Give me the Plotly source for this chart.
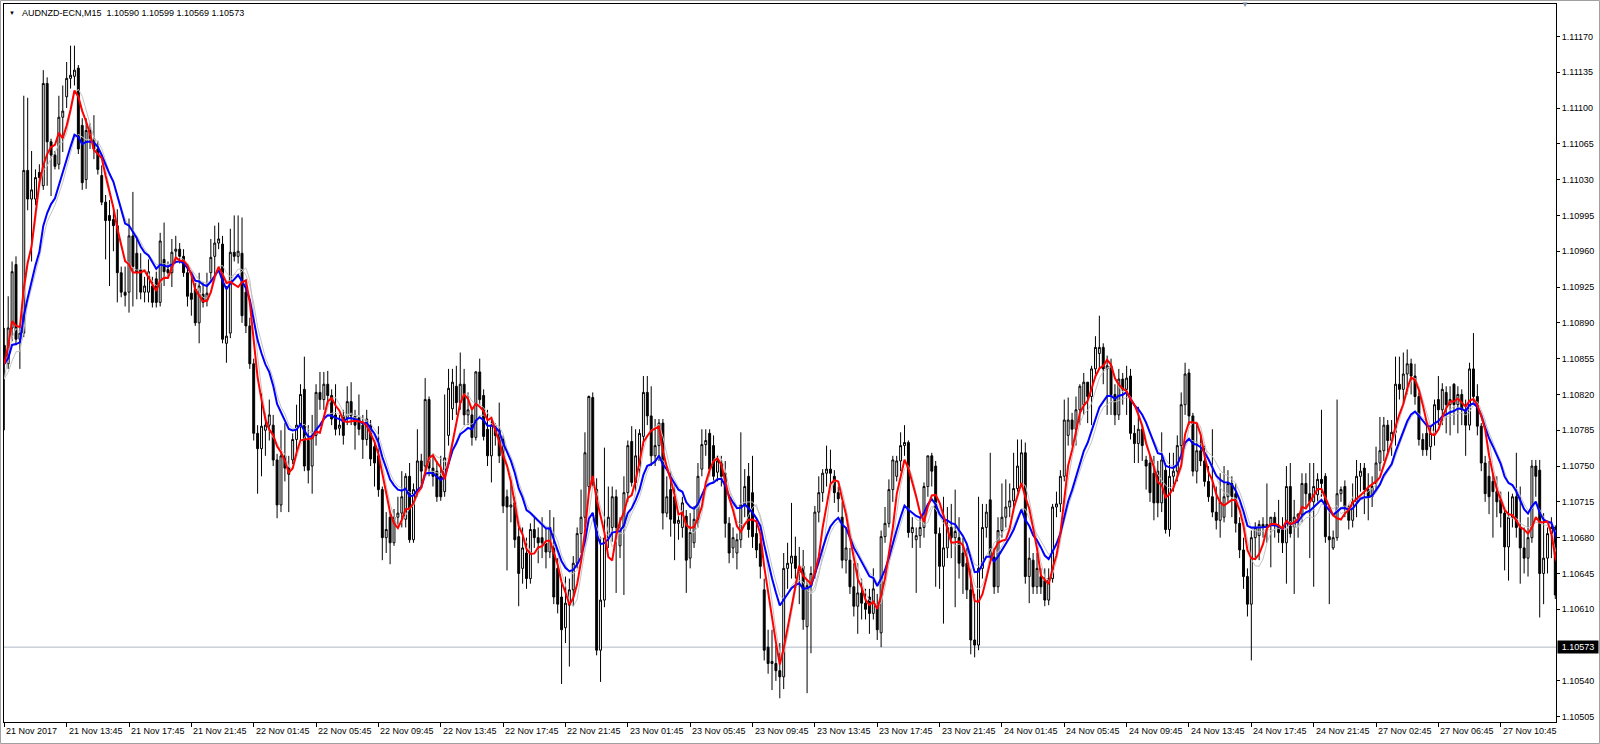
import pandas as pd
import plotly.graph_objects as go

# Prices are stored as points above 1.10000 (price = 1.1 + pts / 100000)
open_pts = [
868,850,885,947,874,880,1039,1011,1011,1037, 1024,1124,1067,1054,1045,1091,1111,1129,1131,1139,
1083,1030,1078,1070,1060,1034,1008,995,991,985, 939,920,920,975,958,942,920,920,926,933,
910,952,942,939,960,962,955,939,919,923, 890,918,912,939,955,968,967,870,880,959,
955,958,920,887,850,782,767,785,790,790, 756,712,760,748,756,776,790,825,775,750,
780,822,815,830,819,800,787,799,797,813, 799,797,790,776,790,769,760,727,680,700,
675,700,704,698,740,678,727,755,750,815, 748,745,740,725,780,806,828,812,830,800,
800,778,842,819,786,760,790,785,776,720, 710,714,681,650,665,640,688,680,680,675,
666,670,650,622,592,614,629,655,684,700, 730,817,727,570,619,680,690,720,672,690,
724,774,734,747,779,822,799,760,770,792, 704,727,720,694,690,701,660,675,698,747,
771,782,770,744,753,743,694,670,665,678, 712,740,724,684,674,629,573,557,557,550,
544,650,655,662,650,652,593,633,645,705, 724,743,747,740,724,700,658,658,632,613,
626,616,622,606,613,587,681,694,727,740, 755,770,773,685,678,682,690,730,760,750,
684,652,670,690,680,680,665,655,629,580, 575,650,690,717,661,632,687,700,710,716,
728,733,763,642,658,632,642,638,619,640, 710,713,740,780,795,786,805,810,832,818,
845,860,866,845,848,820,800,835,825,838, 782,772,786,756,753,743,745,714,746,688,
740,745,770,810,841,799,745,765,755,735, 720,705,697,700,720,733,723,694,668,642,
615,680,682,693,690,693,700,692,690,675, 730,690,700,703,733,723,715,722,737,740,
681,670,680,723,730,710,697,715,740,748, 727,720,733,753,765,790,775,783,830,825,
840,850,838,818,776,782,769,782,815,805, 822,810,830,810,820,805,790,845,818,789,
753,740,735,725,717,704,671,700,720,690, 670,660,680,750,746,645,660,684,690,624,
590]
high_pts = [
885,916,950,955,885,1112,1110,1058,1040,1045, 1137,1130,1070,1058,1112,1122,1145,1161,1161,1142,
1090,1090,1085,1093,1068,1044,1015,1010,1005,1001, 945,945,992,1018,975,958,935,952,935,940,
978,988,950,972,975,968,962,945,939,929, 939,930,939,972,985,988,975,926,982,995,
995,993,930,895,855,790,821,802,815,800, 762,785,792,760,782,810,830,857,790,800,
830,842,842,843,825,830,800,805,828,832, 805,820,800,805,795,775,789,730,705,705,
708,720,745,743,753,733,786,762,836,818, 760,755,760,820,845,845,848,861,845,822,
805,843,855,825,805,795,792,812,780,727, 737,720,690,690,680,694,700,690,700,690,
707,700,660,635,642,640,662,690,727,783, 819,822,738,681,768,730,730,727,700,740,
775,789,786,786,838,838,828,796,796,796, 740,745,734,701,720,707,704,711,753,786,
786,786,780,760,760,755,700,690,684,783, 747,753,760,700,680,640,590,590,575,577,
665,675,714,681,671,668,639,652,711,740, 747,770,766,746,730,715,690,670,655,655,
640,630,630,650,625,687,710,737,760,760, 783,790,775,700,690,700,734,760,763,755,
690,720,710,713,727,700,680,670,650,625, 720,713,713,763,670,700,733,737,733,763,
776,776,773,680,665,665,650,650,650,713, 725,746,815,817,802,818,830,841,832,848,
877,897,870,858,855,830,845,841,848,845, 790,808,790,760,760,760,755,783,753,763,
763,780,822,851,845,802,792,780,770,750, 786,730,743,750,746,740,733,700,680,650,
687,695,697,700,733,700,705,717,700,750, 753,717,704,743,743,753,753,743,805,743,
710,687,815,730,736,713,733,756,753,753, 743,740,769,798,798,795,795,857,857,861,
864,855,850,822,782,790,789,815,838,831, 828,828,831,828,825,815,851,880,830,792,
760,755,743,740,725,710,725,723,763,730, 690,700,756,756,756,704,690,700,692,630,
599]
low_pts = [
785,845,872,868,845,876,1000,950,1005,1025, 1020,1024,1014,1040,1040,1057,1100,1119,1122,1055,
1020,1021,1060,1050,1035,1005,952,926,960,910, 915,906,900,906,913,913,910,910,905,905,
906,926,935,925,950,948,935,906,897,887, 870,905,906,930,933,962,870,851,875,950,
948,890,880,845,775,723,740,760,775,750, 699,705,735,705,752,760,775,745,733,723,
770,805,805,810,790,780,780,771,790,790, 766,780,757,770,750,730,720,658,665,654,
672,690,690,690,675,675,720,730,745,740, 730,715,716,720,770,795,800,805,790,790,
770,775,810,775,750,734,770,753,704,648, 695,670,613,635,630,635,670,655,660,650,
660,615,606,537,577,554,613,650,665,690, 725,730,565,539,612,670,676,626,660,624,
715,730,725,740,770,790,750,750,755,688, 700,681,658,678,680,626,650,670,690,740,
760,740,735,735,730,680,655,660,649,670, 700,680,670,660,640,560,547,531,540,523,
532,630,640,640,615,590,528,567,640,695, 715,730,730,714,705,650,645,625,603,586,
600,600,586,600,580,573,675,690,715,735, 745,760,680,670,626,670,680,720,730,632,
630,596,660,660,612,640,625,620,566,563, 570,640,680,655,625,626,680,690,700,705,
720,730,635,616,625,625,625,613,614,636, 700,705,735,770,770,770,790,800,792,790,
840,845,830,800,800,790,795,810,800,776, 753,753,755,727,715,697,700,705,684,681,
725,735,760,800,790,740,733,750,730,715, 700,688,680,695,715,700,685,660,630,603,
560,660,658,680,675,651,680,675,665,635, 680,625,680,695,710,660,632,715,720,675,
615,668,677,715,700,688,690,700,725,703, 697,710,725,745,755,760,760,770,815,810,
820,820,810,770,760,760,756,770,790,790, 782,780,790,782,790,760,785,812,780,745,
715,703,680,700,690,648,638,690,680,635, 645,642,675,720,602,615,645,660,620,585,
569]
close_pts = [
850,885,940,874,880,1039,1011,1020,1032,1032, 1124,1067,1054,1043,1091,1097,1129,1132,1137,1060,
1027,1078,1070,1060,1040,1008,990,990,985,939, 920,917,975,945,939,920,926,940,910,910,
970,940,939,959,962,955,939,916,913,890, 926,910,919,954,968,972,874,877,959,955,
960,897,887,850,782,767,789,790,800,756, 712,760,748,742,776,790,820,750,746,780,
822,815,830,819,796,786,790,780,813,799, 790,786,776,796,757,753,727,680,688,675,
700,704,720,740,678,727,755,745,815,748, 740,720,720,758,826,832,812,830,800,805,
778,842,815,779,760,790,780,760,711,710, 712,678,645,670,640,688,680,675,675,666,
690,622,615,590,616,629,655,684,700,763, 818,737,570,619,680,700,720,690,690,724,
770,734,760,782,822,799,760,770,792,704, 720,698,694,697,714,658,685,698,740,771,
775,747,740,755,740,694,665,680,678,712, 730,688,681,668,652,570,557,559,550,544,
650,655,662,650,646,600,633,645,705,724, 743,747,743,724,718,658,670,632,613,626,
616,610,606,630,590,681,694,727,756,755, 770,773,685,690,682,690,730,760,745,684,
652,670,690,680,686,655,652,629,580,575, 650,690,705,661,632,687,700,710,716,728,
750,763,642,660,632,650,632,619,640,710, 713,740,795,795,786,805,828,832,818,845,
866,866,845,848,820,800,835,825,836,782, 772,786,770,750,724,714,714,756,688,740,
745,770,810,840,799,745,765,755,735,720, 705,697,715,720,733,720,694,668,642,615,
680,690,693,690,693,700,692,685,675,730, 684,700,703,733,723,715,730,737,733,681,
678,680,723,727,710,697,715,740,745,727, 720,730,753,765,790,775,783,830,825,840,
850,838,818,776,766,766,782,810,805,825, 810,815,810,820,805,790,845,818,789,753,
723,720,725,715,704,671,700,720,690,670, 660,680,750,740,645,660,684,690,624,590,
573]

x_labels = ["21 Nov 2017", "21 Nov 13:45", "21 Nov 17:45", "21 Nov 21:45", "22 Nov 01:45",
            "22 Nov 05:45", "22 Nov 09:45", "22 Nov 13:45", "22 Nov 17:45", "22 Nov 21:45",
            "23 Nov 01:45", "23 Nov 05:45", "23 Nov 09:45", "23 Nov 13:45", "23 Nov 17:45",
            "23 Nov 21:45", "24 Nov 01:45", "24 Nov 05:45", "24 Nov 09:45", "24 Nov 13:45",
            "24 Nov 17:45", "24 Nov 21:45", "27 Nov 02:45", "27 Nov 06:45", "27 Nov 10:45"]
x_label_bars = [0, 16, 32, 48, 64, 80, 96, 112, 128, 144, 160, 176, 192, 208, 224, 240,
                256, 272, 288, 304, 320, 336, 352, 368, 384]
y_ticks = [1.10505, 1.10540, 1.10575, 1.10610, 1.10645, 1.10680, 1.10715, 1.10750, 1.10785,
           1.10820, 1.10855, 1.10890, 1.10925, 1.10960, 1.10995, 1.11030, 1.11065, 1.11100,
           1.11135, 1.11170]
y_ticks_shown = [v for v in y_ticks if abs(v - 1.10575) > 1e-7]
current_price = 1.10573
header = "AUDNZD-ECN,M15  1.10590 1.10599 1.10569 1.10573"


def to_price(pts):
    return [round(1.1 + p / 100000.0, 5) for p in pts]


o = to_price(open_pts)
h = to_price(high_pts)
l = to_price(low_pts)
c = to_price(close_pts)
idx = list(range(len(c)))

cs = pd.Series(c)
med = (pd.Series(h) + pd.Series(l)) / 2
fast = cs.rolling(5, min_periods=1).mean()
slow = cs.ewm(span=12, adjust=False).mean()
fast_g = med.rolling(5, min_periods=1).mean()
slow_g = med.ewm(span=12, adjust=False).mean()

fig = go.Figure()
fig.add_trace(go.Candlestick(
    x=idx, open=o, high=h, low=l, close=c,
    increasing=dict(line=dict(color="black", width=1), fillcolor="white"),
    decreasing=dict(line=dict(color="black", width=1), fillcolor="black"),
    whiskerwidth=0, showlegend=False))
for s in (slow_g, fast_g):
    fig.add_trace(go.Scatter(x=idx, y=s, mode="lines", line=dict(color="#c4c4c4", width=1),
                             hoverinfo="skip", showlegend=False))
fig.add_trace(go.Scatter(x=idx, y=slow, mode="lines", line=dict(color="#0000ff", width=2),
                         showlegend=False))
fig.add_trace(go.Scatter(x=idx, y=fast, mode="lines", line=dict(color="#ff0000", width=2),
                         showlegend=False))

W, H = 1600, 744
ML, MR, MT, MB = 4, 44, 4, 22
PW, PH = W - ML - MR, H - MT - MB


def px(xp):
    return (xp - ML) / PW


def py(yp):
    return (H - MB - yp) / PH


fig.update_layout(
    width=W, height=H, margin=dict(l=ML, r=MR, t=MT, b=MB),
    paper_bgcolor="white", plot_bgcolor="white", showlegend=False,
    font=dict(family="Liberation Sans, Arial, sans-serif", size=9, color="black"),
    xaxis=dict(range=[-0.077, 398.18], showgrid=False, zeroline=False, showline=True,
               linecolor="black", linewidth=1, mirror=True, ticks="outside", ticklen=4,
               tickcolor="black", tickvals=x_label_bars, showticklabels=False,
               rangeslider=dict(visible=False)),
    yaxis=dict(range=[1.1049982, 1.1120168], side="right", showgrid=False, zeroline=False,
               showline=True, linecolor="black", linewidth=1, mirror=True, ticks="outside",
               ticklen=3, tickcolor="black", tickvals=y_ticks_shown,
               ticktext=[f"{v:.5f}" for v in y_ticks_shown], tickfont=dict(size=9)),
)

fig.add_shape(type="line", xref="paper", x0=0, x1=1, yref="y", y0=current_price,
              y1=current_price, line=dict(color="#b0b8c4", width=1), layer="below")
fig.add_shape(type="rect", xref="paper", yref="paper", x0=px(0.5), x1=px(1599.5),
              y0=py(743.5), y1=py(0.5), line=dict(color="#a0a0a0", width=1))

for b, t in zip(x_label_bars, x_labels):
    fig.add_annotation(x=b, xref="x", y=0, yref="paper", text=t, showarrow=False,
                       xanchor="left", yanchor="top", xshift=0, yshift=-2,
                       font=dict(size=9, color="black"))

fig.add_annotation(x=1, xref="paper", xshift=1, y=current_price, yref="y",
                   text="1.10573", showarrow=False, xanchor="left", yanchor="middle",
                   bgcolor="black", borderpad=1, width=38,
                   font=dict(size=9, color="white"))
fig.add_annotation(x=px(20), xref="paper", y=py(12.7), yref="paper", text=header,
                   showarrow=False, xanchor="left", yanchor="middle",
                   font=dict(size=9, color="black"))
fig.add_annotation(x=px(11.5), xref="paper", y=py(12.5), yref="paper", text="▼",
                   showarrow=False, xanchor="center", yanchor="middle",
                   font=dict(size=6, color="black"))
fig.add_annotation(x=px(1245), xref="paper", y=py(5), yref="paper", text="▼",
                   showarrow=False, xanchor="center", yanchor="middle",
                   font=dict(size=8, color="#7a8ca6"))

fig.write_html(
    "out.html",
    config={"displayModeBar": False},
    post_script="document.body.style.margin='0';document.body.style.padding='0';"
                "document.documentElement.style.margin='0';"
                "document.body.style.overflow='hidden';")
